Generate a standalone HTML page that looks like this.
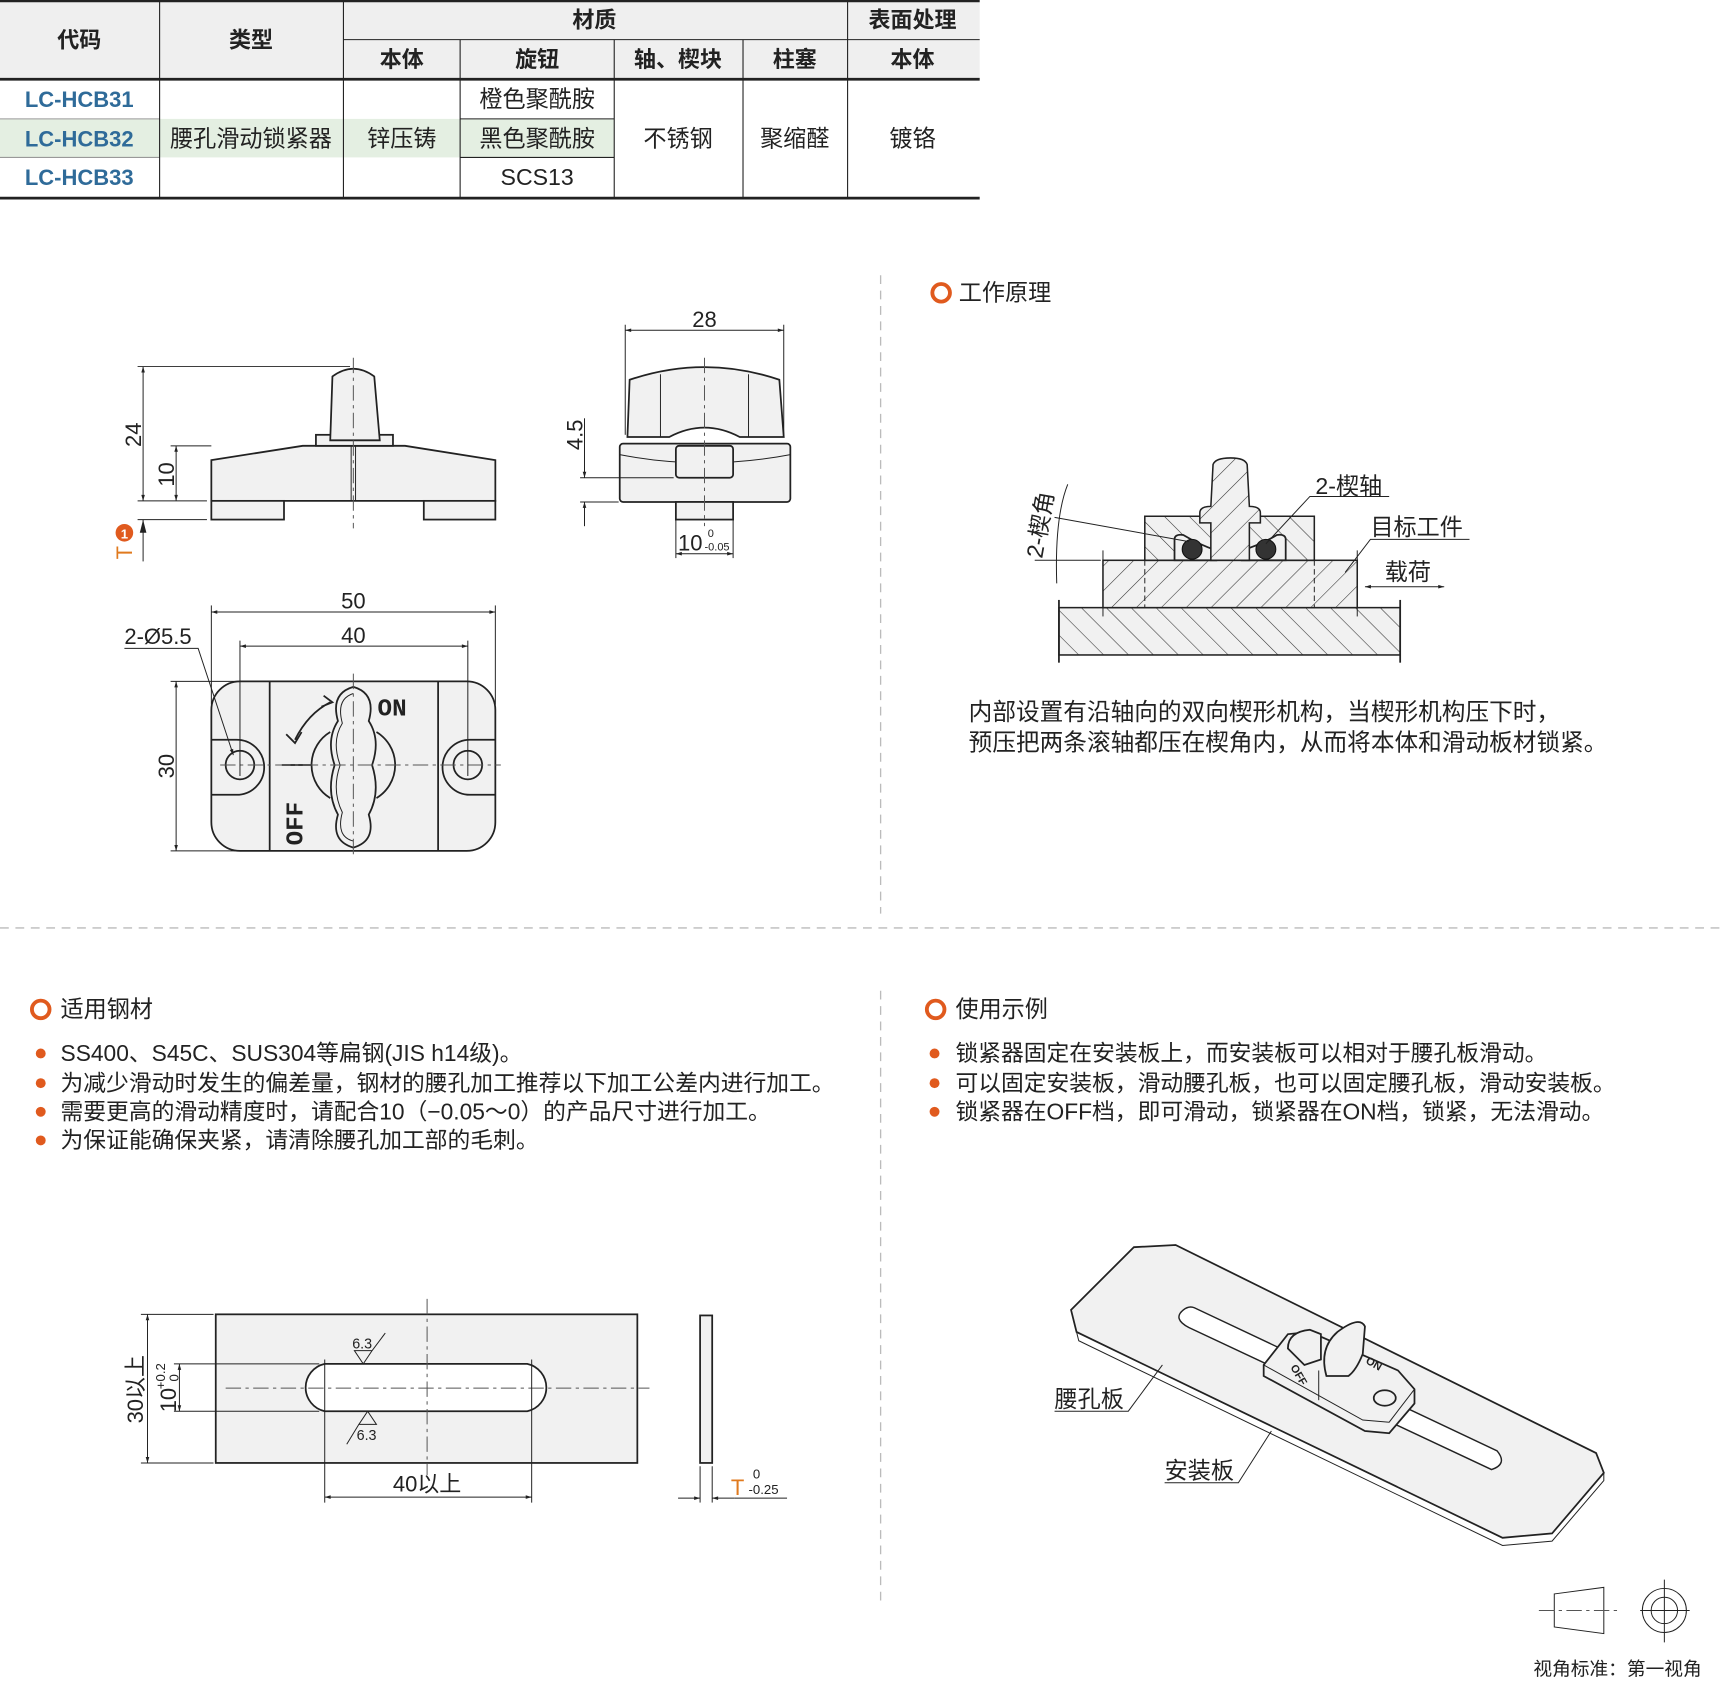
<!DOCTYPE html>
<html><head><meta charset="utf-8">
<style>
html,body{margin:0;padding:0;background:#fff;}
svg{display:block;}
text{font-family:"Liberation Sans","Noto Sans CJK SC",sans-serif;fill:#222;}
.c{text-anchor:middle;}
.o{fill:none;stroke:#222;stroke-width:1.6;}
.f{fill:#f1f1f1;stroke:#222;stroke-width:1.6;}
.t{fill:none;stroke:#222;stroke-width:0.9;}
.cl{fill:none;stroke:#555;stroke-width:0.9;stroke-dasharray:14 4 3 4;}
.sep{stroke:#bbb;stroke-width:1.2;stroke-dasharray:8 6;}
.h{fill:url(#hat);stroke:#222;stroke-width:1.4;}
.h2{fill:url(#hat2);stroke:#222;stroke-width:1.4;}
</style></head><body>
<svg width="1726" height="1682" viewBox="0 0 1568 1528" preserveAspectRatio="none" xmlns="http://www.w3.org/2000/svg">
<defs>
<marker id="a" viewBox="0 0 10 10" refX="10" refY="5" markerWidth="9" markerHeight="6" orient="auto-start-reverse"><path d="M0,2 L10,5 L0,8z" fill="#222"/></marker>
<pattern id="hat" width="16" height="16" patternUnits="userSpaceOnUse" patternTransform="rotate(45)"><rect width="16" height="16" fill="#f1f1f1"/><line x1="0" y1="0" x2="0" y2="16" stroke="#333" stroke-width="1"/></pattern>
<pattern id="hat2" width="16" height="16" patternUnits="userSpaceOnUse" patternTransform="rotate(-45)"><rect width="16" height="16" fill="#f1f1f1"/><line x1="0" y1="0" x2="0" y2="16" stroke="#333" stroke-width="1"/></pattern>
</defs>

<!-- TABLE -->
<rect x="0" y="0" width="890" height="72" fill="#efefef"/>
<rect x="0" y="108" width="558" height="35" fill="#e4efe2"/>
<g stroke="#222" stroke-width="1">
<line x1="0" y1="1" x2="890" y2="1" stroke-width="2"/>
<line x1="312" y1="36" x2="890" y2="36"/>
<line x1="0" y1="72" x2="890" y2="72" stroke-width="2.5"/>
<line x1="0" y1="180" x2="890" y2="180" stroke-width="2.5"/>
<line x1="0" y1="108" x2="145" y2="108" stroke="#999"/>
<line x1="0" y1="143" x2="145" y2="143" stroke="#999"/>
<line x1="418" y1="108" x2="558" y2="108"/>
<line x1="418" y1="143" x2="558" y2="143"/>
<line x1="145" y1="1" x2="145" y2="180"/>
<line x1="312" y1="1" x2="312" y2="180"/>
<line x1="418" y1="36" x2="418" y2="180"/>
<line x1="558" y1="36" x2="558" y2="180"/>
<line x1="675" y1="36" x2="675" y2="180"/>
<line x1="770" y1="1" x2="770" y2="180"/>
</g>
<g font-size="20">
<text class="c" x="72" y="43" font-weight="bold">代码</text>
<text class="c" x="228" y="43" font-weight="bold">类型</text>
<text class="c" x="540" y="25" font-weight="bold">材质</text>
<text class="c" x="829" y="25" font-weight="bold">表面处理</text>
<text class="c" x="365" y="61" font-weight="bold">本体</text>
<text class="c" x="488" y="61" font-weight="bold">旋钮</text>
<text class="c" x="616" y="61" font-weight="bold">轴、楔块</text>
<text class="c" x="722" y="61" font-weight="bold">柱塞</text>
<text class="c" x="829" y="61" font-weight="bold">本体</text>
<text class="c" x="72" y="97" style="fill:#2f6b99" font-weight="bold">LC-HCB31</text>
<text class="c" x="72" y="133" style="fill:#2f6b99" font-weight="bold">LC-HCB32</text>
<text class="c" x="72" y="168" style="fill:#2f6b99" font-weight="bold">LC-HCB33</text>
<text class="c" x="228" y="133" font-size="21">腰孔滑动锁紧器</text>
<text class="c" x="365" y="133" font-size="21">锌压铸</text>
<text class="c" x="488" y="97" font-size="21">橙色聚酰胺</text>
<text class="c" x="488" y="133" font-size="21">黑色聚酰胺</text>
<text class="c" x="488" y="168" font-size="21">SCS13</text>
<text class="c" x="616" y="133" font-size="21">不锈钢</text>
<text class="c" x="722" y="133" font-size="21">聚缩醛</text>
<text class="c" x="829" y="133" font-size="21">镀铬</text>
</g>

<!-- separators -->
<line class="sep" x1="800" y1="250" x2="800" y2="830"/>
<line class="sep" x1="800" y1="900" x2="800" y2="1460"/>
<line class="sep" x1="0" y1="843" x2="1568" y2="843"/>

<!-- FRONT VIEW -->
<path class="f" d="M192,418 L275,405 L368,405 L450,418 L450,455 L192,455Z"/>
<rect class="f" x="192" y="455" width="66" height="17"/>
<rect class="f" x="385" y="455" width="65" height="17"/>
<rect class="f" x="287" y="395" width="70" height="10"/>
<path class="f" d="M300,400 L302,342 Q321,328 340,342 L345,400Z"/>
<line class="t" x1="319" y1="405" x2="319" y2="455"/><line class="t" x1="323" y1="405" x2="323" y2="455"/>
<line class="cl" x1="321" y1="325" x2="321" y2="480"/>
<line class="t" x1="125" y1="333" x2="318" y2="333"/>
<line class="t" x1="130" y1="333" x2="130" y2="455" marker-start="url(#a)" marker-end="url(#a)"/>
<line class="t" x1="155" y1="405" x2="192" y2="405"/>
<line class="t" x1="160" y1="405" x2="160" y2="455" marker-start="url(#a)" marker-end="url(#a)"/>
<line class="t" x1="125" y1="455" x2="188" y2="455"/>
<line class="t" x1="125" y1="472" x2="188" y2="472"/>
<line class="t" x1="130" y1="472" x2="130" y2="510"/>
<path d="M130,472 l-3,12 h6z" fill="#222"/>
<text font-size="20" transform="translate(128,395) rotate(-90)" class="c">24</text>
<text font-size="20" transform="translate(158,431) rotate(-90)" class="c">10</text>
<circle cx="113" cy="484" r="8" fill="#e05a1e"/>
<text font-size="12" x="113" y="489" class="c" style="fill:#fff" font-weight="bold">1</text>
<text font-size="20" transform="translate(120,502) rotate(-90)" class="c" style="fill:#e07a1e">T</text>

<!-- SIDE VIEW -->
<rect class="f" x="563" y="403" width="155" height="53" rx="3"/>
<path class="t" d="M563,413 Q640,428 718,413"/>
<rect class="f" x="614" y="405" width="52" height="29" rx="3"/>
<path class="f" d="M570,397 L572,345 Q640,322 708,345 L712,397 L672,397 Q640,380 608,397Z"/>
<line class="t" x1="600" y1="340" x2="600" y2="397"/><line class="t" x1="680" y1="340" x2="680" y2="397"/>
<rect class="f" x="614" y="456" width="52" height="16"/>
<line class="cl" x1="640" y1="325" x2="640" y2="478"/>
<line class="t" x1="568" y1="295" x2="568" y2="395"/><line class="t" x1="712" y1="295" x2="712" y2="395"/>
<line class="t" x1="568" y1="300" x2="712" y2="300" marker-start="url(#a)" marker-end="url(#a)"/>
<text font-size="20" x="640" y="297" class="c">28</text>
<line class="t" x1="527" y1="434" x2="612" y2="434"/><line class="t" x1="527" y1="456" x2="562" y2="456"/>
<line class="t" x1="531" y1="380" x2="531" y2="434" marker-end="url(#a)"/>
<line class="t" x1="531" y1="456" x2="531" y2="478" marker-start="url(#a)"/>
<text font-size="20" transform="translate(529,395) rotate(-90)" class="c">4.5</text>
<line class="t" x1="614" y1="472" x2="614" y2="507"/><line class="t" x1="666" y1="472" x2="666" y2="507"/>
<line class="t" x1="614" y1="503" x2="666" y2="503" marker-start="url(#a)" marker-end="url(#a)"/>
<text font-size="20" x="616" y="500">10</text>
<text font-size="10" x="643" y="488">0</text><text font-size="10" x="640" y="500">-0.05</text>

<!-- TOP VIEW -->
<rect class="f" x="192" y="619" width="258" height="154" rx="26"/>
<line class="o" x1="245" y1="619" x2="245" y2="773"/><line class="o" x1="398" y1="619" x2="398" y2="773"/>
<path class="o" d="M192,672 L215,672 A25,25 0 0 1 215,722 L192,722"/>
<path class="o" d="M450,672 L427,672 A25,25 0 0 0 427,722 L450,722"/>
<circle class="o" cx="218" cy="695" r="13"/><circle class="o" cx="425" cy="695" r="13"/>
<path class="o" d="M300,665 A35,35 0 0 0 300,725"/><path class="o" d="M342,665 A35,35 0 0 1 342,725"/>
<path class="f" d="M321,624 Q300,630 307,655 Q296,672 304,695 Q296,720 307,740 Q300,764 321,770 Q342,764 335,740 Q346,720 338,695 Q346,672 335,655 Q342,630 321,624Z"/>
<path class="t" d="M321,630 Q305,635 311,657 Q301,673 309,695 Q301,718 311,738 Q305,760 321,764"/>
<line class="o" x1="256" y1="695" x2="283" y2="695"/>
<path class="o" d="M268,672 Q280,648 300,638 M294,632 l8,6 -10,4 M260,667 l8,8 6,-10"/>
<text font-size="22" font-weight="bold" x="343" y="650" style="font-family:'Liberation Mono'">ON</text>
<text font-size="22" font-weight="bold" transform="translate(275,768) rotate(-90)" style="font-family:'Liberation Mono'">OFF</text>
<line class="cl" x1="200" y1="695" x2="455" y2="695"/>
<line class="cl" x1="321" y1="612" x2="321" y2="780"/>
<line class="t" x1="218" y1="582" x2="218" y2="705"/><line class="t" x1="425" y1="582" x2="425" y2="705"/>
<line class="t" x1="192" y1="550" x2="192" y2="640"/><line class="t" x1="450" y1="550" x2="450" y2="640"/>
<line class="t" x1="192" y1="556" x2="450" y2="556" marker-start="url(#a)" marker-end="url(#a)"/>
<line class="t" x1="218" y1="587" x2="425" y2="587" marker-start="url(#a)" marker-end="url(#a)"/>
<text font-size="20" x="321" y="553" class="c">50</text>
<text font-size="20" x="321" y="584" class="c">40</text>
<line class="t" x1="155" y1="619" x2="220" y2="619"/><line class="t" x1="155" y1="773" x2="220" y2="773"/>
<line class="t" x1="160" y1="619" x2="160" y2="773" marker-start="url(#a)" marker-end="url(#a)"/>
<text font-size="20" transform="translate(158,696) rotate(-90)" class="c">30</text>
<text font-size="20" x="113" y="585">2-Ø5.5</text>
<polyline class="t" points="113,589 180,589 212,686" marker-end="url(#a)"/>

<!-- WORKING PRINCIPLE -->
<circle cx="855" cy="266" r="8" fill="none" stroke="#e05a1e" stroke-width="3.5"/>
<text font-size="21" x="871" y="273">工作原理</text>
<rect class="h2" x="962" y="552" width="310" height="43"/>
<line class="o" x1="962" y1="545" x2="962" y2="602"/><line class="o" x1="1272" y1="545" x2="1272" y2="602"/>
<rect class="h" x="1002" y="509" width="231" height="43"/>
<path class="h2" d="M1040,509 L1040,469 L1105,469 L1105,509Z"/>
<path class="h2" d="M1128,509 L1128,469 L1194,469 L1194,509Z"/>
<path class="f" d="M1067,509 L1067,490 Q1067,485 1075,486 Q1090,495 1105,500 L1105,509Z"/>
<path class="f" d="M1128,509 L1128,500 Q1145,495 1160,486 Q1168,485 1168,490 L1168,509Z"/>
<path class="h" d="M1100,509 L1100,475 L1090,475 L1090,466 Q1090,460 1100,460 L1102,422 Q1104,416 1118,416 Q1131,416 1133,422 L1135,460 Q1145,460 1145,466 L1145,475 L1135,475 L1135,509Z"/>
<circle cx="1083" cy="499" r="9" fill="#333" stroke="#111"/>
<circle cx="1150" cy="499" r="9" fill="#333" stroke="#111"/>
<line class="t" x1="1040" y1="509" x2="1040" y2="552" stroke-dasharray="5 3"/><line class="t" x1="1194" y1="509" x2="1194" y2="552" stroke-dasharray="5 3"/>
<line class="t" x1="1002" y1="500" x2="1002" y2="560"/><line class="t" x1="1233" y1="500" x2="1233" y2="560"/>
<text font-size="21" x="1195" y="449">2-楔轴</text>
<polyline class="t" points="1262,451 1190,451 1150,494"/>
<text font-size="21" x="1245" y="486">目标工件</text>
<polyline class="t" points="1335,490 1245,490 1222,520"/>
<text font-size="21" x="1258" y="527">载荷</text>
<line class="t" x1="1240" y1="533" x2="1312" y2="533" marker-start="url(#a)" marker-end="url(#a)"/>
<line class="t" x1="940" y1="509" x2="1000" y2="509"/>
<path class="t" d="M970,440 Q958,470 960,530"/>
<line class="t" x1="958" y1="470" x2="1080" y2="492"/>
<text font-size="21" transform="translate(952,478) rotate(-80)" class="c">2-楔角</text>
<text font-size="21.5" x="880" y="654">内部设置有沿轴向的双向楔形机构，当楔形机构压下时，</text>
<text font-size="21.5" x="880" y="682">预压把两条滚轴都压在楔角内，从而将本体和滑动板材锁紧。</text>

<!-- STEEL -->
<circle cx="37" cy="917" r="8" fill="none" stroke="#e05a1e" stroke-width="3.5"/>
<text font-size="21" x="55" y="924">适用钢材</text>
<g font-size="20.7">
<circle cx="37" cy="957" r="4.5" fill="#e05a1e"/><text x="55" y="964">SS400、S45C、SUS304等扁钢(JIS h14级)。</text>
<circle cx="37" cy="984" r="4.5" fill="#e05a1e"/><text x="55" y="991">为减少滑动时发生的偏差量，钢材的腰孔加工推荐以下加工公差内进行加工。</text>
<circle cx="37" cy="1010" r="4.5" fill="#e05a1e"/><text x="55" y="1017">需要更高的滑动精度时，请配合10（−0.05～0）的产品尺寸进行加工。</text>
<circle cx="37" cy="1036" r="4.5" fill="#e05a1e"/><text x="55" y="1043">为保证能确保夹紧，请清除腰孔加工部的毛刺。</text>
</g>

<!-- EXAMPLE -->
<circle cx="850" cy="917" r="8" fill="none" stroke="#e05a1e" stroke-width="3.5"/>
<text font-size="21" x="868" y="924">使用示例</text>
<g font-size="20.7">
<circle cx="849" cy="957" r="4.5" fill="#e05a1e"/><text x="868" y="964">锁紧器固定在安装板上，而安装板可以相对于腰孔板滑动。</text>
<circle cx="849" cy="984" r="4.5" fill="#e05a1e"/><text x="868" y="991">可以固定安装板，滑动腰孔板，也可以固定腰孔板，滑动安装板。</text>
<circle cx="849" cy="1010" r="4.5" fill="#e05a1e"/><text x="868" y="1017">锁紧器在OFF档，即可滑动，锁紧器在ON档，锁紧，无法滑动。</text>
</g>

<!-- PLATE DRAWING -->
<rect class="f" x="196" y="1194" width="383" height="135"/>
<path d="M295,1239 L479,1239 A22,22 0 0 1 479,1282 L295,1282 A22,22 0 0 1 295,1239Z" fill="#fff" stroke="#222" stroke-width="1.6"/>
<line class="cl" x1="205" y1="1261" x2="590" y2="1261"/>
<line class="cl" x1="388" y1="1180" x2="388" y2="1340"/>
<line class="t" x1="295" y1="1235" x2="295" y2="1365"/><line class="t" x1="483" y1="1235" x2="483" y2="1365"/>
<line class="t" x1="295" y1="1360" x2="483" y2="1360" marker-start="url(#a)" marker-end="url(#a)"/>
<text font-size="20" x="388" y="1355" class="c">40以上</text>
<line class="t" x1="128" y1="1194" x2="194" y2="1194"/><line class="t" x1="128" y1="1329" x2="194" y2="1329"/>
<line class="t" x1="134" y1="1194" x2="134" y2="1329" marker-start="url(#a)" marker-end="url(#a)"/>
<text font-size="20" transform="translate(130,1262) rotate(-90)" class="c">30以上</text>
<line class="t" x1="158" y1="1239" x2="290" y2="1239"/><line class="t" x1="158" y1="1282" x2="290" y2="1282"/>
<line class="t" x1="163" y1="1239" x2="163" y2="1282" marker-start="url(#a)" marker-end="url(#a)"/>
<text font-size="20" transform="translate(160,1283) rotate(-90)">10</text>
<text font-size="12" transform="translate(150,1262) rotate(-90)">+0.2</text>
<text font-size="12" transform="translate(162,1255) rotate(-90)">0</text>
<path class="t" d="M322,1227 L330,1239 L338,1227Z M338,1227 L350,1211"/>
<text font-size="13" x="320" y="1225">6.3</text>
<path class="t" d="M326,1294 L334,1282 L342,1294Z M326,1294 L315,1312"/>
<text font-size="13" x="324" y="1308">6.3</text>
<rect class="f" x="636" y="1195" width="11" height="134"/>
<line class="t" x1="636" y1="1332" x2="636" y2="1365"/><line class="t" x1="647" y1="1332" x2="647" y2="1365"/>
<line class="t" x1="616" y1="1361" x2="636" y2="1361" marker-end="url(#a)"/>
<line class="t" x1="667" y1="1361" x2="715" y2="1361"/>
<line class="t" x1="667" y1="1361" x2="647" y2="1361" marker-end="url(#a)"/>
<text font-size="20" x="664" y="1358" style="fill:#e07a1e">T</text>
<text font-size="12" x="684" y="1343">0</text><text font-size="12" x="680" y="1357">-0.25</text>

<!-- ISO -->
<path class="f" d="M1030,1133 L1068,1131 L1450,1320 L1457,1338 L1410,1393 L1365,1397 L978,1210 L973,1190Z"/>
<path class="t" d="M978,1210 L980,1218 L1365,1404 L1410,1400 L1457,1345 L1457,1338"/>
<path d="M1075,1190 Q1065,1198 1080,1206 L1355,1335 Q1370,1330 1360,1318 L1085,1188 Q1080,1186 1075,1190Z" fill="#fff" stroke="#222" stroke-width="1.3"/>
<path class="f" d="M1148,1240 L1148,1250 L1240,1300 L1262,1302 L1285,1275 L1285,1262 L1270,1245 L1190,1210 L1170,1212 Z"/>
<path class="t" d="M1148,1240 L1238,1290 L1262,1292 L1285,1262"/>
<path class="f" d="M1170,1225 Q1170,1210 1190,1208 L1200,1212 L1200,1235 L1185,1240Z"/>
<path class="f" d="M1205,1250 Q1198,1225 1215,1210 Q1235,1195 1240,1205 L1238,1230 Q1232,1245 1225,1250Z"/>
<ellipse class="o" cx="1258" cy="1270" rx="10" ry="7"/>
<line class="t" x1="1198" y1="1245" x2="1198" y2="1272"/>
<text font-size="10" x="1240" y="1238" font-weight="bold" transform="rotate(30 1240 1238)">ON</text>
<text font-size="10" x="1172" y="1242" font-weight="bold" transform="rotate(60 1172 1242)">OFF</text>
<text font-size="21" x="958" y="1278">腰孔板</text>
<polyline class="t" points="958,1282 1025,1282 1056,1240"/>
<text font-size="21" x="1058" y="1343">安装板</text>
<polyline class="t" points="1058,1347 1125,1347 1155,1300"/>

<!-- projection symbol -->
<path class="t" d="M1412,1448 L1457,1442 L1457,1484 L1412,1478Z"/>
<line class="cl" x1="1398" y1="1463" x2="1470" y2="1463"/>
<circle class="t" cx="1512" cy="1463" r="20"/><circle class="t" cx="1512" cy="1463" r="12"/>
<line class="t" x1="1490" y1="1463" x2="1535" y2="1463"/><line class="t" x1="1512" y1="1435" x2="1512" y2="1492"/>
<text font-size="17" x="1393" y="1522">视角标准：第一视角</text>
</svg>
</body></html>
